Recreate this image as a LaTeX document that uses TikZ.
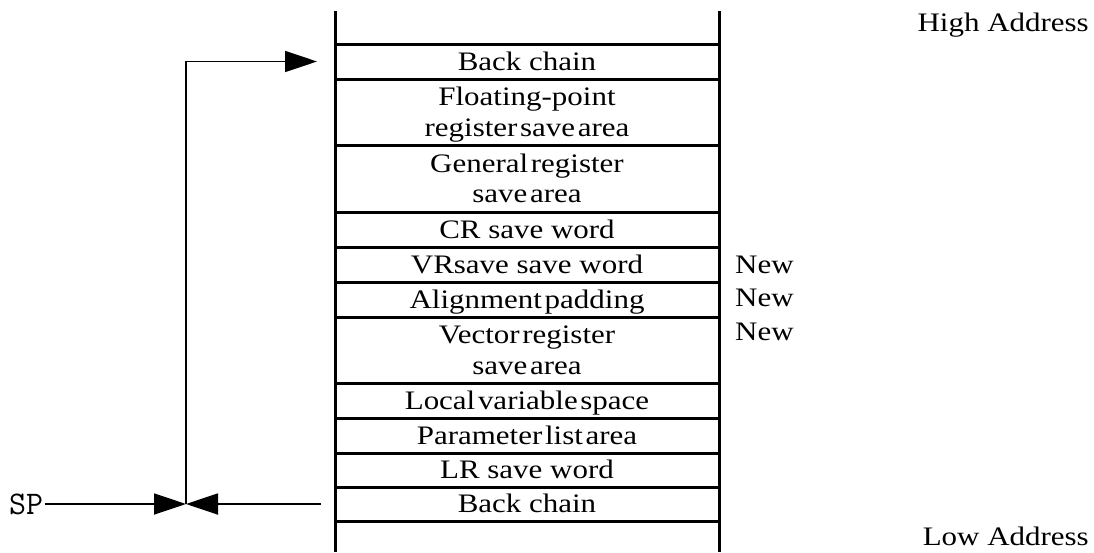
\documentclass[tikz,border=0pt]{standalone}
\usepackage{fontspec}
\setmainfont[FakeStretch=1.16]{Liberation Serif}
\usetikzlibrary{arrows.meta}
\newcommand{\twolines}[2]{\begin{tabular}[t]{@{}c@{}}#1\\#2\end{tabular}}
\newcommand{\tightsp}{\spaceskip=0.1em\relax}
\begin{document}
\begin{tikzpicture}[x=1pt,y=-1pt,
  txt/.style={font=\fontsize{26.7}{30.5}\selectfont},
  cell/.style={txt, draw, line width=3pt, minimum width=384pt, inner sep=0pt,
    outer sep=0pt, anchor=north, text height=17.7pt, text depth=0pt},
  tight/.style={font={\fontsize{26.7}{30.5}\selectfont\tightsp}},
  two/.style={text height=17.7pt, text depth=30.5pt},
  stackline/.style={line width=3pt},
  lbl/.style={txt, inner sep=0pt},
  link/.style={line width=1.8pt, -{Triangle[length=32pt,width=21pt]}},
]
\useasboundingbox (0,0) rectangle (1094,552);
\node[cell, minimum height=35pt] (r1) at (527,44) {Back chain};
\node[cell, two, tight, minimum height=66pt] (r2) at (r1.south) {\twolines{Floating-point}{register save area}};
\node[cell, two, tight, minimum height=67pt] (r3) at (r2.south) {\twolines{General register}{save area}};
\node[cell, minimum height=35pt] (r4) at (r3.south) {CR save word};
\node[cell, minimum height=35pt] (r5) at (r4.south) {VRsave save word};
\node[cell, tight, minimum height=35pt] (r6) at (r5.south) {Alignment padding};
\node[cell, two, tight, minimum height=66pt] (r7) at (r6.south) {\twolines{Vector register}{save area}};
\node[cell, tight, minimum height=35pt] (r8) at (r7.south) {Local variable space};
\node[cell, tight, minimum height=35pt] (r9) at (r8.south) {Parameter list area};
\node[cell, minimum height=34pt] (r10) at (r9.south) {LR save word};
\node[cell, minimum height=34pt] (r11) at (r10.south) {Back chain};
\draw[stackline] (r1.north west) -- ++(0,-33);
\draw[stackline] (r1.north east) -- ++(0,-33);
\draw[stackline] (r11.south west) -- ++(0,31);
\draw[stackline] (r11.south east) -- ++(0,31);

\node[lbl, anchor=base west] (n1) at (735,273) {New};
\node[lbl, anchor=base west] (n2) at (735,306) {New};
\node[lbl, anchor=base west] (n3) at (735,340) {New};
\node[lbl, anchor=base east] (hi) at (1089,31) {High Address};
\node[lbl, anchor=base east] (lo) at (1089,545) {Low Address};

\node[anchor=west, inner sep=2pt, font=\ttfamily\fontsize{33}{33}\selectfont] (sp) at (7,504) {SP};
\coordinate (j) at (186,504);
\coordinate (bs) at ([xshift=-14pt]r11.west);
\draw[link] (sp) -- (j);
\draw[link] (bs) -- (j);
\draw[link] (j) |- ([xshift=-18pt]r1.west);
\end{tikzpicture}
\end{document}
